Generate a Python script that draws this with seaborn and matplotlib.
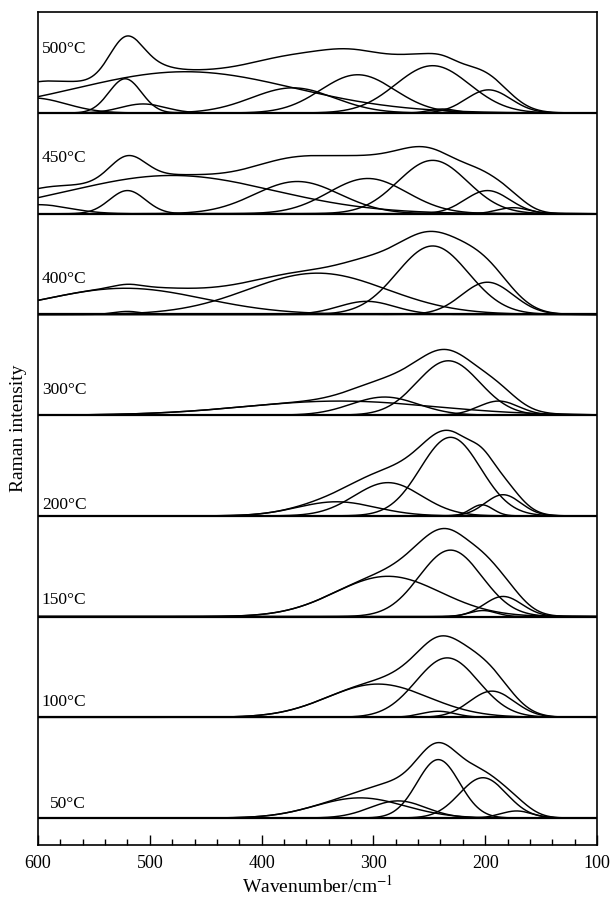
import numpy as np
import pandas as pd
import matplotlib
matplotlib.use("Agg")
import matplotlib.pyplot as plt
from matplotlib.ticker import MultipleLocator
import seaborn as sns

# Fitted Gaussian bands (centre / cm^-1, height / a.u., sigma / cm^-1) per temperature
temps = ["50°C", "100°C", "150°C", "200°C", "300°C", "400°C", "450°C", "500°C"]

centers_50 = [312, 278, 242, 202, 172]
heights_50 = [20, 17, 58, 40, 7]
widths_50 = [40, 25, 19, 21, 14]

centers_100 = [296, 242, 234, 194]
heights_100 = [33, 6, 59, 26]
widths_100 = [45, 15, 28, 20]

centers_150 = [287, 231, 202, 184]
heights_150 = [40, 66, 6, 20]
widths_150 = [47, 28, 12, 17]

centers_200 = [333, 287, 231, 203, 184]
heights_200 = [14, 33, 78, 11, 21]
widths_200 = [35, 30, 27, 10, 16]

centers_300 = [330, 290, 233, 188]
heights_300 = [14, 18, 54, 14]
widths_300 = [85, 30, 28, 18]

centers_400 = [522, 520, 350, 306, 247, 198]
heights_400 = [26, 3, 41, 13, 68, 32]
widths_400 = [70, 12, 62, 25, 32, 23]

centers_450 = [600, 520, 480, 368, 305, 247, 198, 175]
heights_450 = [9, 23, 38, 32, 35, 53, 23, 6]
widths_450 = [28, 16, 91, 38, 35, 31, 20, 14]

centers_500 = [605, 522, 506, 468, 372, 314, 247, 238, 197]
heights_500 = [15, 34, 9, 41, 25, 38, 47, 4, 23]
widths_500 = [30, 14.5, 20, 97, 37, 33, 33, 12, 20]

# height of each label text baseline above its spectrum baseline
label_heights = [9.5, 11, 12.5, 7, 21, 31, 51, 60]

bands = [
    (centers_50, heights_50, widths_50),
    (centers_100, heights_100, widths_100),
    (centers_150, heights_150, widths_150),
    (centers_200, heights_200, widths_200),
    (centers_300, heights_300, widths_300),
    (centers_400, heights_400, widths_400),
    (centers_450, heights_450, widths_450),
    (centers_500, heights_500, widths_500),
]

PANEL_STEP = 100.0
wn = np.arange(100.0, 600.25, 0.5)


def gauss(x, c, h, s):
    return h * np.exp(-((x - c) ** 2) / (2.0 * s ** 2))


frames = []
for i, (temp, (cs, hs, ss)) in enumerate(zip(temps, bands)):
    offset = i * PANEL_STEP
    total = np.zeros_like(wn)
    for j, (c, h, s) in enumerate(zip(cs, hs, ss)):
        g = gauss(wn, c, h, s)
        total += g
        frames.append(pd.DataFrame({"wavenumber": wn, "intensity": g + offset,
                                    "curve": f"{temp}-band{j}"}))
    frames.append(pd.DataFrame({"wavenumber": wn, "intensity": total + offset,
                                "curve": f"{temp}-sum"}))
df = pd.concat(frames, ignore_index=True)

sns.set_theme(style="ticks")
plt.rcParams["font.family"] = ["Liberation Serif", "DejaVu Serif"]
plt.rcParams["mathtext.fontset"] = "stix"

fig = plt.figure(figsize=(6.14, 9.09), dpi=100)
ax = fig.add_axes([38 / 614, 64 / 909, 559 / 614, 833 / 909])

sns.lineplot(data=df, x="wavenumber", y="intensity", units="curve",
             estimator=None, color="black", linewidth=1.05, legend=False, ax=ax)

for i, temp in enumerate(temps):
    offset = i * PANEL_STEP
    ax.axhline(offset, color="black", linewidth=1.6, zorder=3)
    xpos = 589 if temp == "50°C" else 596.5
    ax.text(xpos, offset + label_heights[i], temp, fontsize=12.5,
            ha="left", va="baseline", color="black")

ax.set_xlim(600, 100)
ax.set_ylim(-26.8, 800.3)
ax.set_yticks([])
ax.xaxis.set_major_locator(MultipleLocator(100))
ax.xaxis.set_minor_locator(MultipleLocator(20))
ax.tick_params(axis="x", which="both", direction="in", top=False, bottom=True,
               labelsize=13, pad=7, color="black", labelcolor="black")
ax.tick_params(axis="x", which="major", length=7, width=1.0)
ax.tick_params(axis="x", which="minor", length=4, width=1.0)
for sp in ax.spines.values():
    sp.set_linewidth(1.2)
    sp.set_color("black")

ax.set_xlabel("Wavenumber/cm$^{-1}$", fontsize=14, labelpad=2, color="black")
ax.set_ylabel("Raman intensity", fontsize=14, color="black")
ax.yaxis.set_label_coords(-0.02, 0.5)

fig.savefig("out.png", dpi=100, facecolor="white")
